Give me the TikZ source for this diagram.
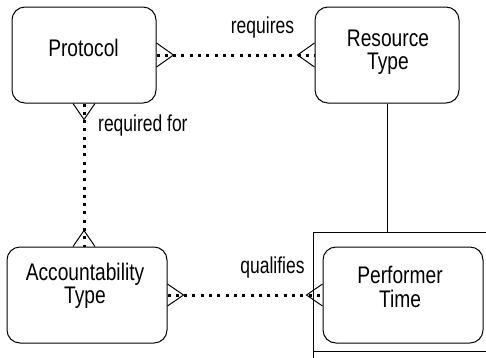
\documentclass[tikz,border=0pt]{standalone}
\usepackage{fontspec}
\setmainfont{Liberation Sans}
\newfontfamily\boxfont[FakeStretch=0.8]{Liberation Sans}
\newfontfamily\labfont[FakeStretch=0.76]{Liberation Sans}
\usetikzlibrary{calc}
\begin{document}
\begin{tikzpicture}[x=1pt,y=-1pt,
  ent/.style={draw, line width=1pt, rounded corners=13pt, inner sep=0pt},
  frm/.style={draw, line width=1pt, inner sep=0pt},
  rel/.style={line width=3pt, dash pattern=on 3pt off 5.3pt},
  foot/.style={line width=1pt},
  solidrel/.style={line width=0.9pt},
  txt/.style={font=\boxfont\fontsize{24}{23}\selectfont, inner sep=0pt, anchor=base},
  lab/.style={font=\labfont\fontsize{23}{23}\selectfont, inner sep=0pt, anchor=base}]
\useasboundingbox (0,0) rectangle (486,357);
% frame around Performer Time
\node[frm, minimum width=185pt, minimum height=119pt, anchor=north west] (frame) at (313,232) {};
\draw[solidrel] (frame.south west) -- ++(0,10);
% entities
\node[ent, minimum width=144pt, minimum height=96pt] (p)  at (84,55) {};
\node[ent, minimum width=144pt, minimum height=96pt] (rt) at (387,55) {};
\node[ent, minimum width=160pt, minimum height=96pt] (at) at (87,295) {};
\node[ent, minimum width=160pt, minimum height=96pt] (pt) at (403,295) {};
% texts
\node[txt] (tp) at (83.5,56) {Protocol};
\node[txt] (trt) at (388,46) {\begin{tabular}[t]{@{}c@{}}Resource\\Type\end{tabular}};
\node[txt] (tat) at (85,280) {\begin{tabular}[t]{@{}c@{}}Accountability\\Type\end{tabular}};
\node[txt] (tpt) at (400,283) {\begin{tabular}[t]{@{}c@{}}Performer\\Time\end{tabular}};
% relationships
\draw[rel] (p.east) -- (rt.west);
\draw[rel] (p.south) -- (p.south |- at.north);
\draw[rel] (at.east) -- (pt.west);
\draw[solidrel] (rt.south) -- (rt.south |- frame.north);
% crow's feet
\draw[foot] ($(p.east)+(0,-12)$) -- ($(p.east)+(17,0)$) -- ($(p.east)+(0,12)$);
\draw[foot] ($(rt.west)+(0,-12)$) -- ($(rt.west)+(-17,0)$) -- ($(rt.west)+(0,12)$);
\draw[foot] ($(p.south)+(-11,0)$) -- ($(p.south)+(0,16)$) -- ($(p.south)+(11,0)$);
\draw[foot] ($(p.south |- at.north)+(-11,0)$) -- ($(p.south |- at.north)+(0,-16)$) -- ($(p.south |- at.north)+(11,0)$);
\draw[foot] ($(at.east)+(0,-11)$) -- ($(at.east)+(16,0)$) -- ($(at.east)+(0,11)$);
\draw[foot] ($(pt.west)+(0,-11)$) -- ($(pt.west)+(-16,0)$) -- ($(pt.west)+(0,11)$);
% labels
\node[lab] (lreq) at (262.5,33) {requires};
\node[lab, anchor=base west] (lreqf) at (98,131) {required for};
\node[lab] (lqual) at (272.5,273) {qualifies};
\end{tikzpicture}
\end{document}
